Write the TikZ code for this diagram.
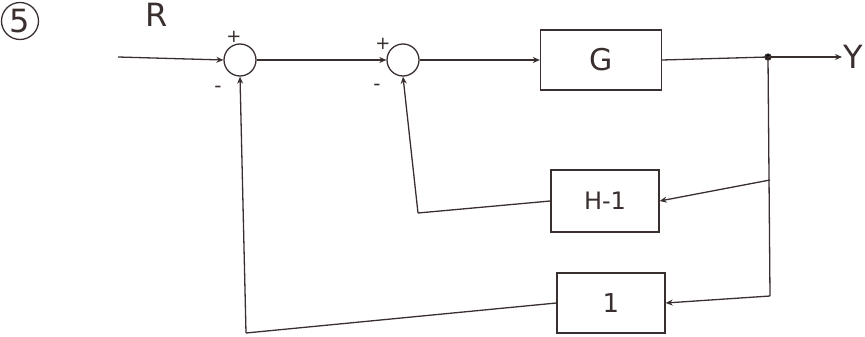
\documentclass[tikz,border=0pt]{standalone}
\usepackage{fontspec}
\setmainfont{DejaVu Sans}
\usetikzlibrary{arrows.meta}
\definecolor{ink}{HTML}{3A2F2F}
\begin{document}
\begin{tikzpicture}[x=1pt,y=-1pt,
  ink/.style={draw=ink,line width=1.3pt},
  conn/.style={ink,-{Stealth[length=7pt,width=6pt]}},
  blockbox/.style={ink,rectangle,minimum width=#1,font=\fontsize{30}{32}\selectfont,text=ink},
  sumnode/.style={ink,circle,minimum size=32pt,inner sep=0pt},
  lbl/.style={text=ink,inner sep=1pt}]
\useasboundingbox (0,0) rectangle (865,337);
% title number
\node[ink,circle,minimum size=37pt,inner sep=0pt,font=\fontsize{32}{34}\selectfont,text=ink] (num) at (20,21) {5};
% summing junctions
\node[sumnode] (s1) at (240,60) {};
\node[sumnode] (s2) at (403,60) {};
\node[lbl,font=\fontsize{18}{18}\selectfont] (s1p) at (234,37) {+};
\node[lbl,font=\fontsize{20}{20}\selectfont] (s1m) at (218,89) {-};
\node[lbl,font=\fontsize{18}{18}\selectfont] (s2p) at (383,44) {+};
\node[lbl,font=\fontsize{20}{20}\selectfont] (s2m) at (377,87) {-};
% blocks
\node[blockbox=121pt,minimum height=60pt] (G) at (601,60) {G};
\node[blockbox=108pt,minimum height=62pt,font=\fontsize{24}{26}\selectfont] (H) at (605,201) {H-1};
\node[blockbox=108pt,minimum height=60pt,font=\fontsize{26}{28}\selectfont] (one) at (611,303) {1};
% input / output
\coordinate (in) at (118,57);
\node[lbl,font=\fontsize{32}{34}\selectfont] (R) at (157,15) {R};
\node[lbl,font=\fontsize{32}{34}\selectfont,anchor=west] (Y) at (842,57) {Y};
\coordinate (br) at (768,57);
\fill[ink] (br) circle (3pt);
\coordinate (hb) at (770,180);
\coordinate (bot) at (770,296);
\coordinate (c1) at (246,333);
\coordinate (c2) at (418,213);
% forward path
\draw[conn] (in) -- (s1.west);
\draw[conn] (s1.east) -- (s2.west);
\draw[conn] (s2.east) -- (G.west);
\draw[ink] (G.east) -- (br);
\draw[conn] (br) -- (Y.west);
% feedback
\draw[ink] (br) -- (bot);
\draw[conn] (bot) -- (one.east);
\draw[conn] (hb) -- (H.east);
\draw[ink] (H.west) -- (c2);
\draw[conn] (c2) -- (s2.south);
\draw[ink] (one.west) -- (c1);
\draw[conn] (c1) -- (s1.south);
\end{tikzpicture}
\end{document}
